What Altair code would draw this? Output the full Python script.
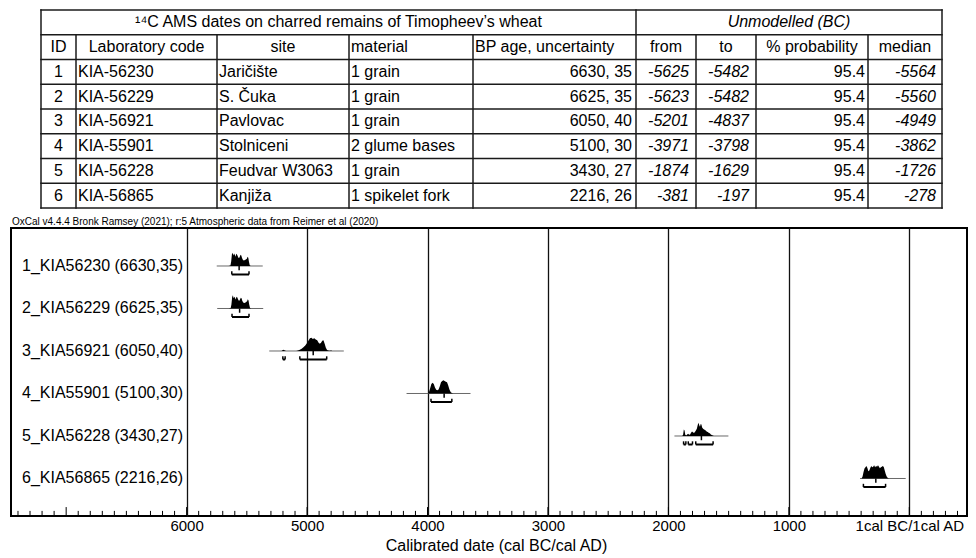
import altair as alt
import pandas as pd

FONT = "Liberation Sans"

# ---------------- table values ----------------
table_title = "¹⁴C AMS dates on charred remains of Timopheev’s wheat"
group_title = "Unmodelled (BC)"
headers = ["ID", "Laboratory code", "site", "material", "BP age, uncertainty",
           "from", "to", "% probability", "median"]
ids = [1, 2, 3, 4, 5, 6]
lab_codes = ["KIA-56230", "KIA-56229", "KIA-56921", "KIA-55901", "KIA-56228", "KIA-56865"]
sites = ["Jaričište", "S. Čuka", "Pavlovac", "Stolniceni", "Feudvar W3063", "Kanjiža"]
materials = ["1 grain", "1 grain", "1 grain", "2 glume bases", "1 grain", "1 spikelet fork"]
bp_age = [6630, 6625, 6050, 5100, 3430, 2216]
bp_err = [35, 35, 40, 30, 27, 26]
cal_from = [-5625, -5623, -5201, -3971, -1874, -381]
cal_to = [-5482, -5482, -4837, -3798, -1629, -197]
prob = [95.4, 95.4, 95.4, 95.4, 95.4, 95.4]
median = [-5564, -5560, -4949, -3862, -1726, -278]

# ---------------- OxCal plot values ----------------
caption = "OxCal v4.4.4 Bronk Ramsey (2021); r:5 Atmospheric data from Reimer et al (2020)"
axis_title = "Calibrated date (cal BC/cal AD)"
grid_years = [-6000, -5000, -4000, -3000, -2000, -1000, 0]
line_from = [-5750, -5746, -5314, -4174, -1950, -409]
line_to = [-5368, -5364, -4695, -3643, -1502, -30]

seg_id = [1, 2, 3, 3, 4, 5, 5, 5, 6]
seg_from = [-5625, -5623, -5201, -5060, -3971, -1874, -1835, -1773, -381]
seg_to = [-5482, -5482, -5182, -4837, -3798, -1855, -1800, -1629, -197]

dens_years_1 = [-5652, -5636, -5630, -5624, -5618, -5612, -5606, -5600, -5594, -5588, -5582, -5576,
                -5570, -5564, -5558, -5552, -5546, -5540, -5532, -5524, -5516, -5508, -5500, -5494,
                -5488, -5482, -5476, -5468]
dens_vals_1 = [0, 0.03, 0.35, 0.9, 1.0, 0.8, 0.95, 0.85, 0.7, 0.92, 0.88, 0.75,
               0.62, 0.6, 0.72, 0.85, 0.8, 0.6, 0.45, 0.42, 0.45, 0.5, 0.55, 0.7,
               0.62, 0.3, 0.06, 0]
dens_years_2 = [-5650, -5634, -5628, -5622, -5616, -5610, -5604, -5598, -5592, -5586, -5580, -5574,
                -5568, -5562, -5556, -5550, -5544, -5538, -5530, -5522, -5514, -5506, -5498, -5492,
                -5486, -5480, -5474, -5466]
dens_vals_2 = [0, 0.03, 0.3, 0.85, 1.0, 0.78, 0.9, 0.8, 0.68, 0.9, 0.85, 0.72,
               0.6, 0.58, 0.7, 0.82, 0.78, 0.58, 0.45, 0.42, 0.44, 0.5, 0.55, 0.7,
               0.6, 0.28, 0.05, 0]
dens_years_3 = [-5212, -5204, -5196, -5188, -5180, -5172, -5090, -5075, -5060, -5045, -5030, -5015,
                -5000, -4988, -4976, -4964, -4952, -4940, -4928, -4916, -4904, -4894, -4884, -4874,
                -4864, -4854, -4844, -4834, -4824, -4812, -4800, -4790]
dens_vals_3 = [0, 0.06, 0.1, 0.06, 0.02, 0, 0, 0.03, 0.1, 0.18, 0.28, 0.42,
               0.6, 0.8, 0.97, 1.0, 0.92, 0.96, 0.88, 0.82, 0.62, 0.55, 0.62, 0.78,
               0.82, 0.55, 0.25, 0.08, 0.03, 0.02, 0.04, 0]
dens_years_4 = [-3998, -3988, -3978, -3968, -3958, -3948, -3938, -3928, -3918, -3908, -3898, -3888,
                -3878, -3868, -3858, -3848, -3838, -3828, -3818, -3808, -3798, -3788]
dens_vals_4 = [0, 0.1, 0.4, 0.72, 0.82, 0.72, 0.45, 0.28, 0.25, 0.3, 0.55, 0.85,
               0.95, 1.0, 0.95, 0.9, 0.86, 0.6, 0.3, 0.12, 0.04, 0]
dens_years_5 = [-1885, -1878, -1872, -1866, -1860, -1852, -1844, -1836, -1828, -1820, -1812, -1804,
                -1796, -1788, -1780, -1772, -1764, -1756, -1750, -1744, -1738, -1732, -1726, -1720,
                -1712, -1704, -1696, -1688, -1680, -1672, -1664, -1656, -1648, -1640, -1632, -1622]
dens_vals_5 = [0, 0.1, 0.5, 0.42, 0.1, 0.04, 0.12, 0.18, 0.1, 0.12, 0.25, 0.35,
               0.28, 0.22, 0.3, 0.42, 0.55, 0.85, 1.0, 0.82, 0.7, 0.92, 0.88, 0.65,
               0.55, 0.5, 0.45, 0.4, 0.32, 0.3, 0.22, 0.2, 0.12, 0.08, 0.04, 0]
dens_years_6 = [-396, -388, -380, -372, -364, -356, -348, -340, -332, -324, -316, -308,
                -300, -292, -284, -276, -268, -260, -252, -244, -236, -228, -220, -212,
                -204, -196, -188, -180, -170]
dens_vals_6 = [0, 0.15, 0.5, 0.75, 0.85, 0.95, 0.8, 0.55, 0.6, 0.8, 0.95, 0.85,
               0.9, 1.0, 0.85, 0.95, 0.9, 1.0, 0.9, 0.78, 0.85, 0.9, 0.95, 0.88,
               0.6, 0.35, 0.15, 0.05, 0]

# ---------------- layout constants ----------------
VIEW_W = 956
col_w = [35, 141, 132, 124, 163, 60, 60, 112, 74]
header_align = ["center", "center", "center", "left", "left", "center", "center", "center", "center"]
cell_align = ["center", "left", "left", "left", "right", "right", "right", "right", "right"]
cell_italic = [False, False, False, False, False, True, True, False, True]
cell_pad = [0, 2, 2, 2, 4, 7, 7, 3, 6]
DENS_H = 0.31

edges = [0]
for w in col_w:
    edges.append(edges[-1] + w)


def xpos(ci, align, pad):
    left, right = edges[ci], edges[ci + 1]
    if align == "center":
        return (left + right) / 2
    if align == "left":
        return left + pad
    return right - pad


cells = [
    dict(x=(edges[0] + edges[5]) / 2, y=0.5, text=table_title, align="center", italic=False),
    dict(x=(edges[5] + edges[9]) / 2, y=0.5, text=group_title, align="center", italic=True),
]
for ci, h in enumerate(headers):
    cells.append(dict(x=xpos(ci, header_align[ci], 2), y=1.5, text=h,
                      align=header_align[ci], italic=False))
for ri in range(6):
    vals = [str(ids[ri]), lab_codes[ri], sites[ri], materials[ri],
            f"{bp_age[ri]}, {bp_err[ri]}", str(cal_from[ri]), str(cal_to[ri]),
            f"{prob[ri]:.1f}", str(median[ri])]
    for ci, v in enumerate(vals):
        cells.append(dict(x=xpos(ci, cell_align[ci], cell_pad[ci]), y=ri + 2.5, text=v,
                          align=cell_align[ci], italic=cell_italic[ci]))
cells_df = pd.DataFrame(cells)

tx = alt.Scale(domain=[-30, VIEW_W - 30], nice=False, zero=False)
ty = alt.Scale(domain=[0, 8], reverse=True, nice=False, zero=False)

hl_df = pd.DataFrame({"x": [edges[0]] * 9, "x2": [edges[-1]] * 9, "y": list(range(9))})
vl_df = pd.DataFrame({
    "x": edges,
    "y": [0 if e in (edges[0], edges[5], edges[-1]) else 1 for e in edges],
    "y2": [8] * len(edges),
})

table_layers = [
    alt.Chart(hl_df).mark_rule(color="#1a1a1a", strokeWidth=1.5, strokeCap="square").encode(
        x=alt.X("x:Q", scale=tx, axis=None), x2="x2:Q", y=alt.Y("y:Q", scale=ty, axis=None)),
    alt.Chart(vl_df).mark_rule(color="#1a1a1a", strokeWidth=1.5, strokeCap="square").encode(
        x=alt.X("x:Q", scale=tx, axis=None), y=alt.Y("y:Q", scale=ty, axis=None), y2="y2:Q"),
]
for (al, it), sub in cells_df.groupby(["align", "italic"]):
    table_layers.append(
        alt.Chart(sub[["x", "y", "text"]]).mark_text(
            align=al, baseline="middle", fontSize=16, font=FONT,
            fontStyle="italic" if it else "normal", color="black").encode(
            x=alt.X("x:Q", scale=tx, axis=None), y=alt.Y("y:Q", scale=ty, axis=None),
            text="text:N"))

table = alt.layer(*table_layers).properties(
    width=VIEW_W, height=198, view=alt.ViewBackground(stroke="transparent"))

# ---------------- plot ----------------
Y_MIN, Y_MAX = 0.1176, 6.894
px = alt.Scale(domain=[-7458, 479], nice=False, zero=False)
py = alt.Scale(domain=[Y_MIN, Y_MAX], nice=False, zero=False)
x_axis = alt.Axis(values=grid_years, grid=True, gridColor="#111", gridWidth=1.3, ticks=False,
                  domain=False, labelOverlap=False,
                  labelExpr="datum.value == 0 ? '1cal BC/1cal AD' : format(-datum.value, 'd')",
                  labelFontSize=15, labelColor="black", labelFont=FONT, labelPadding=2,
                  title=axis_title, titleFontSize=16, titleFont=FONT, titleFontWeight="normal",
                  titleColor="black", titlePadding=4, titleX=485)

rows_df = pd.DataFrame({
    "row": ids,
    "base": [7 - i for i in ids],
    "label": [f"{i}_{c.replace('-', '')} ({a},{e})" for i, c, a, e in zip(ids, lab_codes, bp_age, bp_err)],
    "lf": line_from, "lt": line_to, "med": median,
})
rows_df["med_low"] = rows_df["base"] - 0.1

dens_sets = [(dens_years_1, dens_vals_1), (dens_years_2, dens_vals_2), (dens_years_3, dens_vals_3),
             (dens_years_4, dens_vals_4), (dens_years_5, dens_vals_5), (dens_years_6, dens_vals_6)]
dens_rows = []
for i, (ys, ds) in zip(ids, dens_sets):
    for yv, dv in zip(ys, ds):
        dens_rows.append(dict(row=i, year=yv, base=7 - i, top=7 - i + dv * DENS_H))
dens_df = pd.DataFrame(dens_rows)

seg_df = pd.DataFrame({"row": seg_id, "sf": seg_from, "st": seg_to})
seg_df["by"] = 7 - seg_df["row"] - 0.2
seg_df["by2"] = seg_df["by"] + 0.075

tick_years = list(range(-7400, 401, 100))
ticks_df = pd.DataFrame({"year": tick_years})
ticks_df["y0"] = Y_MIN
ticks_df["y1"] = [Y_MIN + (0.21 if v % 1000 == 0 else 0.12) for v in tick_years]

X = lambda f: alt.X(f, scale=px, axis=x_axis)
Y = lambda f: alt.Y(f, scale=py, axis=None)

plot_layers = [
    alt.Chart(ticks_df).mark_rule(color="black", strokeWidth=1).encode(
        x=X("year:Q"), y=Y("y0:Q"), y2="y1:Q"),
    alt.Chart(rows_df).mark_rule(color="#6a6a6a", strokeWidth=1).encode(
        x=X("lf:Q"), x2="lt:Q", y=Y("base:Q")),
    alt.Chart(dens_df).mark_area(color="black", interpolate="linear").encode(
        x=X("year:Q"), y=Y("top:Q"), y2="base:Q", detail="row:N"),
    alt.Chart(rows_df).mark_rule(color="black", strokeWidth=1.5).encode(
        x=X("med:Q"), y=Y("base:Q"), y2="med_low:Q"),
    alt.Chart(seg_df).mark_rule(color="black", strokeWidth=2).encode(
        x=X("sf:Q"), x2="st:Q", y=Y("by:Q")),
    alt.Chart(seg_df).mark_rule(color="black", strokeWidth=1.5).encode(
        x=X("sf:Q"), y=Y("by:Q"), y2="by2:Q"),
    alt.Chart(seg_df).mark_rule(color="black", strokeWidth=1.5).encode(
        x=X("st:Q"), y=Y("by:Q"), y2="by2:Q"),
    alt.Chart(rows_df).mark_text(align="left", baseline="middle", fontSize=16, font=FONT,
                                 color="black").encode(
        x=alt.value(11), y=Y("base:Q"), text="label:N"),
    alt.Chart(pd.DataFrame({"t": [caption]})).mark_text(
        align="left", baseline="bottom", fontSize=10, font=FONT, color="black").encode(
        x=alt.value(1), y=alt.value(-1), text="t:N"),
]

plot = alt.layer(*plot_layers).properties(
    width=VIEW_W, height=288, view=alt.ViewBackground(stroke="black", strokeWidth=2))

chart = alt.vconcat(table, plot, spacing=20, bounds="flush").properties(
    padding={"left": 2, "top": 0, "right": 0, "bottom": 0}
).configure(font=FONT).configure_view(stroke="transparent")

chart.save("out.html", embed_options={"renderer": "svg", "actions": False})
